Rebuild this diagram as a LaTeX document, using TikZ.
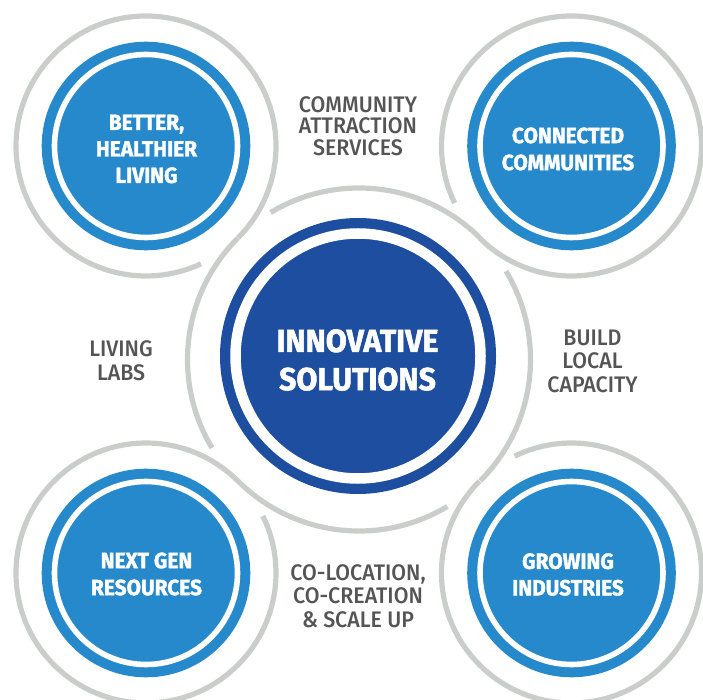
\documentclass[tikz,border=0pt]{standalone}
\usepackage{fontspec}
\newfontfamily\whitefont[FakeStretch=0.95, BoldFeatures={FakeBold=1.6}]{Fira Sans}
\newfontfamily\greyfont[FakeStretch=0.95]{Fira Sans Medium}
\definecolor{cornerblue}{RGB}{37,137,204}
\definecolor{hubblue}{RGB}{30,78,160}
\definecolor{ringgrey}{RGB}{202,206,203}
\definecolor{textgrey}{RGB}{85,85,85}
\begin{document}
\begin{tikzpicture}[x=1pt,y=1pt,
  ring/.style={draw=ringgrey, line width=5.2pt},
  corner/.style={circle, fill=cornerblue, minimum size=208.6pt, inner sep=0pt},
  hub/.style={circle, fill=hubblue, minimum size=276pt, inner sep=0pt},
  cornerwhite/.style={draw=white, line width=5.6pt},
  hubwhite/.style={draw=white, line width=10.5pt},
  whitetxt/.style={text=white, align=center, inner sep=0pt, font=\whitefont\bfseries\fontsize{22}{#1}\selectfont},
  hubtxt/.style={text=white, align=center, inner sep=0pt, font=\whitefont\bfseries\fontsize{32}{38.3}\selectfont},
  greytxt/.style={text=textgrey, align=center, inner sep=0pt, font=\greyfont\fontsize{22.5}{#1}\selectfont},
]
\useasboundingbox (0,0) rectangle (703,699);
\fill[white] (0,0) rectangle (703,699);
% circles
\node[corner] (tl) at (146,553) {};
\node[corner] (tr) at (571.5,553) {};
\node[corner] (bl) at (146,126) {};
\node[corner] (br) at (571.5,126) {};
\node[hub] (hub) at (358,343) {};
\coordinate (hubring) at (359,339.5);
% white inner rings
\draw[cornerwhite] (tl.center) circle[radius=91.5];
\draw[cornerwhite] (tr.center) circle[radius=91.5];
\draw[cornerwhite] (bl.center) circle[radius=91.5];
\draw[cornerwhite] (br.center) circle[radius=91.5];
\draw[hubwhite] (hub.center) circle[radius=122.5];
% grey interlaced rings
\draw[ring] (tl.center) ++(-45:130) arc[start angle=-45, end angle=295, radius=130];
\draw[ring] (tr.center) ++(225:130) arc[start angle=225, end angle=566, radius=130];
\draw[ring] (bl.center) ++(45:130) arc[start angle=45, end angle=386, radius=130];
\draw[ring] (br.center) ++(135:130) arc[start angle=135, end angle=476, radius=130];
\draw[ring] (hubring) ++(135:171.5) arc[start angle=135, end angle=211, radius=171.5];
\draw[ring] (hubring) ++(225:171.5) arc[start angle=225, end angle=301, radius=171.5];
\draw[ring] (hubring) ++(315:171.5) arc[start angle=315, end angle=391, radius=171.5];
\draw[ring] (hubring) ++(45:171.5) arc[start angle=45, end angle=121, radius=171.5];
% texts in circles
\node[hubtxt] (hubtext) at (357.5,339) {INNOVATIVE\\SOLUTIONS};
\node[whitetxt=26.5] (tltext) at (146.5,550) {BETTER,\\HEALTHIER\\LIVING};
\node[whitetxt=27] (trtext) at (568,550) {CONNECTED\\COMMUNITIES};
\node[whitetxt=27] (bltext) at (146.5,125) {NEXT GEN\\RESOURCES};
\node[whitetxt=26.5] (brtext) at (568,124.5) {GROWING\\INDUSTRIES};
% grey labels
\node[greytxt=21.5] (lab1) at (358,573) {COMMUNITY\\ATTRACTION\\SERVICES};
\node[greytxt=23.5] (lab2) at (592.5,338) {BUILD\\LOCAL\\CAPACITY};
\node[greytxt=23.5] (lab3) at (121,338.5) {LIVING\\LABS};
\node[greytxt=23.5] (lab4) at (358,103) {CO-LOCATION,\\CO-CREATION\\\& SCALE UP};
\end{tikzpicture}
\end{document}
